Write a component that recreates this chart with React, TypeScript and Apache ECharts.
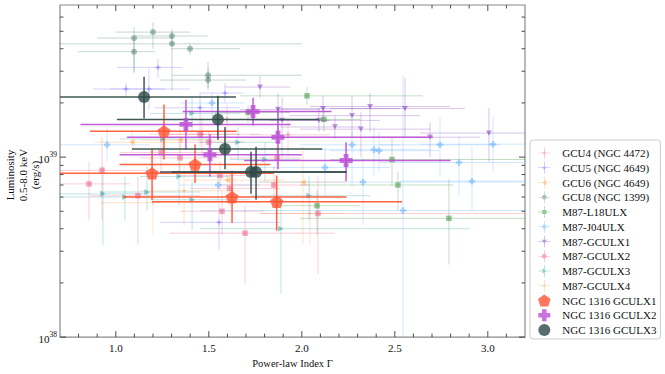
import React, { useEffect, useRef } from 'react';
import * as echarts from 'echarts';

// Each point: [Γ, Γ low, Γ high, L, L low, L high]  (L in erg/s)
type Pt = [number, number, number, number, number, number];

const GCU4_N4472: Pt[] = [
  [1.926, 1.72, 2.15, 1.33e39, 1.0e39, 1.66e39],
  [1.598, 1.40, 1.83, 1.62e39, 1.29e39, 2.0e39],
  [1.463, 1.18, 1.775, 1.34e39, 1.0e39, 1.66e39],
];
const GCU5_N4649: Pt[] = [
  [1.227, 1.006, 1.356, 3.15e39, 2.75e39, 3.53e39],
  [1.055, 0.877, 1.265, 2.39e39, 2.14e39, 2.58e39],
  [1.178, 0.97, 1.40, 2.39e39, 1.84e39, 3.11e39],
  [1.587, 1.45, 1.684, 2.27e39, 2.0e39, 2.58e39],
  [1.453, 1.21, 1.668, 1.88e39, 1.56e39, 2.27e39],
  [1.555, 1.238, 1.883, 0.434e39, 0.306e39, 0.551e39],
];
const GCU6_N4649: Pt[] = [
  [1.087, 0.888, 1.318, 1.21e39, 1.07e39, 1.38e39],
  [1.345, 1.13, 1.614, 1.245e39, 1.07e39, 1.47e39],
  [1.598, 1.372, 1.91, 0.745e39, 0.61e39, 0.89e39],
  [2.006, 1.775, 2.232, 0.726e39, 0.326e39, 1.14e39],
];
const GCU8_N1399: Pt[] = [
  [1.098, 0.899, 1.302, 4.59e39, 3.0e39, 5.27e39],
  [1.2, 1.001, 1.399, 4.95e39, 4.0e39, 5.61e39],
  [1.302, 1.103, 1.496, 4.71e39, 4.15e39, 5.15e39],
  [1.302, 0.7, 2.0, 4.26e39, 2.36e39, 4.95e39],
  [1.098, 0.797, 1.21, 3.85e39, 2.92e39, 4.65e39],
  [1.399, 1.297, 1.668, 4.0e39, 3.71e39, 4.26e39],
  [1.496, 1.302, 2.0, 2.85e39, 2.42e39, 3.36e39],
  [1.496, 1.238, 1.70, 2.68e39, 2.36e39, 3.11e39],
];
const M87_L18ULX: Pt[] = [
  [2.028, 1.668, 2.652, 2.19e39, 1.96e39, 2.45e39],
  [1.711, 1.533, 1.937, 1.77e39, 1.56e39, 1.93e39],
  [2.119, 1.937, 2.313, 1.62e39, 1.38e39, 1.88e39],
  [2.485, 2.152, 3.2, 0.97e39, 0.69e39, 1.29e39],
  [2.517, 1.99, 2.813, 0.70e39, 0.505e39, 0.83e39],
  [2.082, 1.883, 2.313, 0.537e39, 0.37e39, 0.65e39],
  [2.791, 1.99, 3.2, 0.457e39, 0.253e39, 0.754e39],
];
const M87_J04ULX: Pt[] = [
  [0.953, 0.7, 1.184, 1.17e39, 0.945e39, 1.47e39],
  [1.517, 1.345, 1.695, 2.0e39, 1.66e39, 2.27e39],
  [2.27, 1.99, 2.53, 1.17e39, 0.69e39, 1.38e39],
  [2.388, 2.098, 2.69, 1.10e39, 0.78e39, 1.47e39],
  [2.415, 2.152, 2.74, 1.085e39, 0.83e39, 1.38e39],
  [2.743, 2.42, 3.066, 1.17e39, 0.78e39, 1.66e39],
  [3.028, 2.635, 3.2, 1.18e39, 0.83e39, 1.66e39],
  [2.845, 2.42, 3.2, 0.933e39, 0.61e39, 1.29e39],
  [2.125, 1.775, 2.474, 0.876e39, 0.61e39, 1.14e39],
  [2.329, 1.72, 3.2, 0.727e39, 0.42e39, 1.0e39],
  [2.915, 2.528, 3.2, 0.735e39, 0.505e39, 1.14e39],
  [2.544, 1.453, 3.2, 0.505e39, 0.1e39, 2.85e39],
  [1.55, 1.345, 1.775, 0.70e39, 0.57e39, 0.83e39],
];
const M87_GCULX1: Pt[] = [
  [1.775, 1.587, 1.937, 2.45e39, 2.14e39, 2.82e39],
  [1.872, 1.668, 2.098, 1.84e39, 1.38e39, 2.27e39],
  [1.894, 1.72, 2.152, 1.60e39, 1.0e39, 2.14e39],
  [2.092, 1.83, 2.42, 1.60e39, 1.38e39, 1.88e39],
  [2.114, 1.883, 2.528, 1.86e39, 1.56e39, 2.19e39],
  [2.178, 1.883, 2.313, 1.47e39, 1.26e39, 1.70e39],
  [2.27, 1.937, 2.635, 1.70e39, 1.29e39, 2.19e39],
  [2.318, 1.99, 2.69, 1.43e39, 1.0e39, 1.77e39],
  [2.367, 2.044, 2.797, 1.91e39, 1.38e39, 2.27e39],
  [2.555, 2.152, 2.877, 1.86e39, 1.29e39, 2.75e39],
  [2.689, 2.367, 2.958, 1.29e39, 1.0e39, 1.56e39],
  [3.006, 2.635, 3.2, 1.36e39, 0.945e39, 1.88e39],
];
const M87_GCULX2: Pt[] = [
  [0.926, 0.7, 1.184, 0.844e39, 0.445e39, 1.29e39],
  [0.856, 0.7, 1.076, 0.71e39, 0.445e39, 0.945e39],
  [1.119, 0.861, 1.453, 0.61e39, 0.326e39, 0.78e39],
  [1.243, 1.023, 1.56, 1.06e39, 0.83e39, 1.29e39],
  [1.345, 1.13, 1.56, 0.99e39, 0.78e39, 1.21e39],
  [1.453, 1.29, 1.668, 1.34e39, 1.14e39, 1.56e39],
  [1.56, 1.345, 1.775, 0.79e39, 0.65e39, 0.945e39],
  [1.614, 1.40, 1.883, 0.67e39, 0.537e39, 0.83e39],
  [1.571, 1.345, 1.80, 0.50e39, 0.37e39, 0.65e39],
  [1.695, 1.29, 2.178, 0.378e39, 0.197e39, 0.537e39],
  [1.85, 1.56, 2.044, 0.70e39, 0.57e39, 0.89e39],
  [2.087, 1.775, 3.2, 0.486e39, 0.224e39, 0.78e39],
  [1.867, 1.614, 1.99, 0.99e39, 0.83e39, 1.14e39],
  [1.50, 1.318, 1.695, 1.21e39, 1.0e39, 1.38e39],
];
const M87_GCULX3: Pt[] = [
  [1.41, 1.184, 1.668, 1.75e39, 1.38e39, 2.14e39],
  [1.254, 1.023, 1.506, 1.26e39, 1.0e39, 1.56e39],
  [1.34, 1.13, 1.614, 0.78e39, 0.537e39, 0.945e39],
  [1.657, 1.453, 1.883, 1.21e39, 0.945e39, 1.47e39],
  [1.802, 1.614, 1.99, 0.97e39, 0.735e39, 1.21e39],
  [0.931, 0.7, 1.184, 0.625e39, 0.326e39, 0.89e39],
  [1.049, 0.7, 1.345, 0.60e39, 0.445e39, 0.78e39],
  [1.168, 0.915, 1.453, 0.64e39, 0.505e39, 0.89e39],
  [1.41, 1.184, 1.72, 0.58e39, 0.393e39, 0.735e39],
  [2.039, 1.72, 2.367, 0.61e39, 0.445e39, 0.78e39],
  [1.888, 1.453, 2.904, 0.40e39, 0.174e39, 0.61e39],
];
const M87_GCULX4: Pt[] = [
  [1.367, 1.13, 1.668, 0.65e39, 0.42e39, 0.89e39],
  [1.2, 0.915, 1.775, 0.558e39, 0.37e39, 0.69e39],
  [2.044, 1.775, 2.232, 0.486e39, 0.326e39, 0.69e39],
];
const N1316_GCULX1: Pt[] = [
  [1.259, 0.861, 1.65, 1.39e39, 0.969e39, 1.96e39],
  [1.195, 0.7, 1.85, 0.813e39, 0.58e39, 1.11e39],
  [1.426, 1.02, 1.83, 0.91e39, 0.717e39, 1.18e39],
  [1.625, 1.04, 2.24, 0.60e39, 0.43e39, 0.84e39],
  [1.865, 1.195, 2.54, 0.565e39, 0.39e39, 0.79e39],
];
const N1316_GCULX2: Pt[] = [
  [1.377, 0.81, 1.94, 1.52e39, 1.10e39, 2.08e39],
  [1.506, 1.02, 2.0, 1.03e39, 0.78e39, 1.34e39],
  [1.738, 1.36, 2.16, 1.79e39, 1.50e39, 2.14e39],
  [1.872, 1.06, 2.705, 1.29e39, 0.855e39, 1.88e39],
  [2.238, 1.69, 2.80, 0.957e39, 0.735e39, 1.21e39],
];
const N1316_GCULX3: Pt[] = [
  [1.152, 0.7, 1.646, 2.16e39, 1.64e39, 2.8e39],
  [1.549, 1.006, 2.09, 1.62e39, 1.25e39, 2.19e39],
  [1.587, 1.087, 2.11, 1.11e39, 0.855e39, 1.47e39],
  [1.727, 1.237, 2.24, 0.826e39, 0.625e39, 1.07e39],
  [1.754, 1.30, 2.24, 0.826e39, 0.58e39, 1.14e39],
];

const X_MAJOR = [1.0, 1.5, 2.0, 2.5, 3.0];
const X_MINOR = [0.8, 0.9, 1.1, 1.2, 1.3, 1.4, 1.6, 1.7, 1.8, 1.9, 2.1, 2.2, 2.3, 2.4, 2.6, 2.7, 2.8, 2.9, 3.1];
const Y_MAJOR = [1e38, 1e39];
const Y_MINOR = [2e38, 3e38, 4e38, 5e38, 6e38, 7e38, 8e38, 9e38, 2e39, 3e39, 4e39, 5e39, 6e39];

const X_MIN = 0.7;
const X_MAX = 3.2;
const Y_MIN = 1e38;
const Y_MAX = 7e39;

const FONT = "'Liberation Serif', 'Times New Roman', serif";
const TXT = '#111';
const FS = 11;

const SHAPES: Record<string, string> = {
  circle: 'M6,10a4,4 0 1,1 8,0a4,4 0 1,1 -8,0Z',
  square: 'M6.5,6.5H13.5V13.5H6.5Z',
  triDown: 'M6,7H14L10,14Z',
  triUp: 'M6,13L10,6L14,13Z',
  triRight: 'M7,6L14,10L7,14Z',
  triLeft: 'M13,6V14L6,10Z',
  plus: 'M8.5,6H11.5V8.5H14V11.5H11.5V14H8.5V11.5H6V8.5H8.5Z',
  star: 'M10,5L11.2,8.8L15,10L11.2,11.2L10,15L8.8,11.2L5,10L8.8,8.8Z',
  pentagon: 'M10,3L16.7,7.8L14.1,15.7H5.9L3.3,7.8Z',
};
const CROSS = 'M0,9.5H20V10.5H0Z M9.5,0H10.5V20H9.5Z';

function rgba(hex: string, a: number) {
  const n = parseInt(hex.slice(1), 16);
  return `rgba(${(n >> 16) & 255},${(n >> 8) & 255},${n & 255},${a})`;
}

const GROUPS = [
  { name: 'GCU4 (NGC 4472)', data: GCU4_N4472, color: '#f0608a', shape: 'star', size: 7, bold: false },
  { name: 'GCU5 (NGC 4649)', data: GCU5_N4649, color: '#6a5cff', shape: 'star', size: 7, bold: false },
  { name: 'GCU6 (NGC 4649)', data: GCU6_N4649, color: '#ff9a30', shape: 'triLeft', size: 6, bold: false },
  { name: 'GCU8 (NGC 1399)', data: GCU8_N1399, color: '#2f6a58', shape: 'circle', size: 6, bold: false },
  { name: 'M87-L18ULX', data: M87_L18ULX, color: '#2e8b2e', shape: 'square', size: 5.5, bold: false },
  { name: 'M87-J04ULX', data: M87_J04ULX, color: '#5aaaff', shape: 'plus', size: 6.5, bold: false },
  { name: 'M87-GCULX1', data: M87_GCULX1, color: '#7a2fb0', shape: 'triDown', size: 6, bold: false },
  { name: 'M87-GCULX2', data: M87_GCULX2, color: '#e8507a', shape: 'square', size: 5.5, bold: false },
  { name: 'M87-GCULX3', data: M87_GCULX3, color: '#1f9a9a', shape: 'triRight', size: 6, bold: false },
  { name: 'M87-GCULX4', data: M87_GCULX4, color: '#f49a50', shape: 'star', size: 5, bold: false },
  { name: 'NGC 1316 GCULX1', data: N1316_GCULX1, color: '#ff5533', shape: 'pentagon', size: 13, bold: true },
  { name: 'NGC 1316 GCULX2', data: N1316_GCULX2, color: '#bb4fd6', shape: 'plus', size: 13, bold: true },
  { name: 'NGC 1316 GCULX3', data: N1316_GCULX3, color: '#2e4a48', shape: 'circle', size: 12, bold: true },
];

function buildOption() {
  const series: any[] = [];
  GROUPS.forEach((g) => {
    const lineColor = g.bold ? rgba(g.color, 0.92) : rgba(g.color, 0.28);
    const lw = g.bold ? 1.5 : 1;
    series.push({
      type: 'custom',
      name: g.name + ' errors',
      data: g.data,
      encode: { x: [0, 1, 2], y: [3, 4, 5] },
      clip: true,
      silent: true,
      z: g.bold ? 3 : 1,
      renderItem: (_p: any, api: any) => {
        const a = api.coord([api.value(1), api.value(3)]);
        const b = api.coord([api.value(2), api.value(3)]);
        const c = api.coord([api.value(0), api.value(4)]);
        const d = api.coord([api.value(0), api.value(5)]);
        return {
          type: 'group',
          children: [
            { type: 'line', shape: { x1: a[0], y1: a[1], x2: b[0], y2: b[1] }, style: { stroke: lineColor, lineWidth: lw } },
            { type: 'line', shape: { x1: c[0], y1: c[1], x2: d[0], y2: d[1] }, style: { stroke: lineColor, lineWidth: lw } },
          ],
        };
      },
    });
  });
  GROUPS.forEach((g) => {
    series.push({
      type: 'scatter',
      name: g.name,
      data: g.data.map((p) => [p[0], p[3]]),
      symbol: 'path://' + SHAPES[g.shape],
      symbolSize: g.size,
      symbolKeepAspect: true,
      itemStyle: { color: g.bold ? g.color : rgba(g.color, g.shape === 'circle' ? 0.5 : 0.62) },
      silent: true,
      z: g.bold ? 4 : 2,
    });
  });

  const tickSeries = (vals: number[], isX: boolean, len: number) => ({
    type: 'custom',
    data: vals.map((v) => (isX ? [v, 1e39] : [1, v])),
    silent: true,
    z: 6,
    renderItem: (params: any, api: any) => {
      const cs = params.coordSys;
      const lines: any[] = [];
      if (isX) {
        const x = api.coord([api.value(0), 1e39])[0];
        const yb = cs.y + cs.height;
        lines.push({ type: 'line', shape: { x1: x, y1: yb, x2: x, y2: yb - len }, style: { stroke: '#222', lineWidth: 0.8 } });
        lines.push({ type: 'line', shape: { x1: x, y1: cs.y, x2: x, y2: cs.y + len }, style: { stroke: '#222', lineWidth: 0.8 } });
      } else {
        const y = api.coord([1, api.value(1)])[1];
        const xr = cs.x + cs.width;
        lines.push({ type: 'line', shape: { x1: cs.x, y1: y, x2: cs.x + len, y2: y }, style: { stroke: '#222', lineWidth: 0.8 } });
        lines.push({ type: 'line', shape: { x1: xr, y1: y, x2: xr - len, y2: y }, style: { stroke: '#222', lineWidth: 0.8 } });
      }
      return { type: 'group', children: lines };
    },
  });
  series.push(tickSeries(X_MAJOR, true, 6));
  series.push(tickSeries(X_MINOR, true, 3.5));
  series.push(tickSeries(Y_MAJOR, false, 6));
  series.push(tickSeries(Y_MINOR, false, 3.5));

  return {
    animation: false,
    backgroundColor: '#fff',
    grid: { left: 60, right: 140, top: 5, bottom: 30, show: true, borderColor: '#8a8a8a', borderWidth: 1.2, backgroundColor: 'transparent' },
    xAxis: {
      type: 'value',
      min: X_MIN,
      max: X_MAX,
      interval: 0.1,
      axisLine: { show: false },
      axisTick: { show: false },
      splitLine: { show: false },
      axisLabel: {
        margin: 5,
        fontFamily: FONT,
        fontSize: FS,
        color: TXT,
        formatter: (v: number) => (Math.abs(v * 2 - Math.round(v * 2)) < 1e-6 ? v.toFixed(1) : ''),
      },
      name: 'Power-law Index Γ',
      nameLocation: 'middle',
      nameGap: 14,
      nameTextStyle: { fontFamily: FONT, fontSize: 10.5, color: TXT },
    },
    yAxis: {
      type: 'log',
      logBase: 10,
      min: Y_MIN,
      max: Y_MAX,
      axisLine: { show: false },
      axisTick: { show: false },
      splitLine: { show: false },
      axisLabel: {
        margin: 3,
        formatter: (v: number) => {
          const e = Math.log10(v);
          const r = Math.round(e);
          if (Math.abs(e - r) > 1e-3) return '';
          return `{b|10}{s|${r}}`;
        },
        rich: {
          b: { fontFamily: FONT, fontSize: FS, color: TXT, lineHeight: 14, verticalAlign: 'bottom' },
          s: { fontFamily: FONT, fontSize: 7.5, color: TXT, lineHeight: 9, verticalAlign: 'top' },
        },
      },
    },
    legend: {
      orient: 'vertical',
      left: 530,
      top: 140,
      data: GROUPS.map((g) => ({ name: g.name, icon: 'path://' + (g.bold ? SHAPES[g.shape] : CROSS + ' ' + SHAPES[g.shape]) })),
      itemWidth: 26,
      itemHeight: 12,
      itemGap: 2.75,
      padding: [7, 4, 3, 8],
      borderColor: '#cccccc',
      borderWidth: 1,
      borderRadius: 3,
      backgroundColor: '#fff',
      selectedMode: false,
      textStyle: { fontFamily: FONT, fontSize: FS, color: TXT, lineHeight: 12 },
    },
    graphic: [
      { type: 'text', x: 10, y: 175, rotation: Math.PI / 2, style: { text: 'Luminosity', fontFamily: FONT, fontSize: FS, fill: TXT, align: 'center', verticalAlign: 'middle' } },
      { type: 'text', x: 23, y: 175, rotation: Math.PI / 2, style: { text: '0.5-8.0 keV', fontFamily: FONT, fontSize: FS, fill: TXT, align: 'center', verticalAlign: 'middle' } },
      { type: 'text', x: 35, y: 175, rotation: Math.PI / 2, style: { text: '(erg/s)', fontFamily: FONT, fontSize: FS, fill: TXT, align: 'center', verticalAlign: 'middle' } },
    ],
    series,
  };
}

export default function App() {
  const ref = useRef<HTMLDivElement>(null);
  useEffect(() => {
    if (!ref.current) return;
    const chart = echarts.init(ref.current, undefined, { renderer: 'svg' });
    chart.setOption(buildOption() as any);
    return () => chart.dispose();
  }, []);
  return <div ref={ref} style={{ position: 'fixed', left: 0, top: 0, width: 665, height: 374, background: '#fff' }} />;
}
